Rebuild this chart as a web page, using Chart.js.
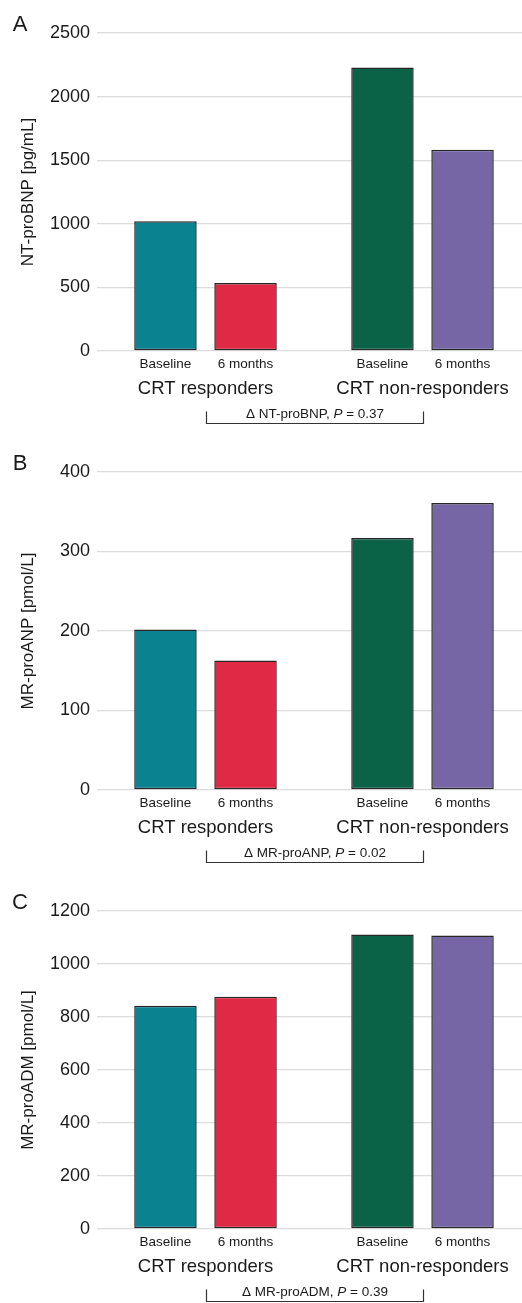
<!DOCTYPE html>
<html>
<head>
<meta charset="utf-8">
<title>CRT biomarkers</title>
<script src="https://cdn.jsdelivr.net/npm/chart.js"></script>
<style>
  html, body { margin: 0; padding: 0; background: #fff; overflow: hidden; width: 522px; height: 1303px; }
  .panel { position: absolute; left: 0; width: 531px; }
  canvas { display: block; }
</style>
</head>
<body>
<div class="panel" style="top:0px"><canvas id="chartA" width="531" height="439"></canvas></div>
<div class="panel" style="top:439px"><canvas id="chartB" width="531" height="439"></canvas></div>
<div class="panel" style="top:878px"><canvas id="chartC" width="531" height="425"></canvas></div>
<script>
// categories
const groups = ['CRT responders', 'CRT non-responders'];
const timepoints = ['Baseline', '6 months'];

// values (group order: responders, non-responders)
const ntprobnpBaseline = [1021, 2228];
const ntprobnp6m = [535, 1583];
const mrproanpBaseline = [202, 317];
const mrproanp6m = [163, 361];
const mrproadmBaseline = [842, 1111];
const mrproadm6m = [876, 1108];

// axis ranges / tick steps per panel
const panelLetters = ['A', 'B', 'C'];
const yTitles = ['NT-proBNP [pg/mL]', 'MR-proANP [pmol/L]', 'MR-proADM [pmol/L]'];
const yMax = [2500, 400, 1200];
const yStep = [500, 100, 200];
const deltaNames = ['NT-proBNP', 'MR-proANP', 'MR-proADM'];
const pValues = ['0.37', '0.02', '0.39'];

const baselineColors = ['#0b8290', '#0b6347'];
const sixMonthColors = ['#e02a45', '#7666a6'];
const FONT = '"Liberation Sans", Arial, Helvetica, sans-serif';
const INK = '#1a1a1a';

// panel letter, y title, timepoint labels and the delta bracket
const annotations = {
  id: 'annotations',
  afterDraw(chart, args, opts) {
    const ctx = chart.ctx;
    const area = chart.chartArea;
    const x = chart.scales.x;
    ctx.save();
    ctx.fillStyle = INK;

    ctx.font = '22px ' + FONT;
    ctx.textAlign = 'center';
    ctx.textBaseline = 'middle';
    ctx.fillText(opts.letter, 20, 25);

    ctx.save();
    ctx.translate(28, (area.top + area.bottom) / 2);
    ctx.rotate(-Math.PI / 2);
    ctx.font = '17px ' + FONT;
    ctx.fillText(opts.yTitle, 0, 0);
    ctx.restore();

    ctx.font = '13.5px ' + FONT;
    chart.data.datasets.forEach((ds, i) => {
      chart.getDatasetMeta(i).data.forEach(bar => {
        ctx.fillText(timepoints[i], bar.x, area.bottom + 13);
      });
    });

    // bracket between group centres
    const x0 = Math.round(x.getPixelForValue(0)) + 0.5;
    const x1 = Math.round(x.getPixelForValue(1)) + 0.5;
    const yb = area.bottom + 72.5;
    ctx.strokeStyle = '#333';
    ctx.lineWidth = 1.2;
    ctx.beginPath();
    ctx.moveTo(x0, yb - 12);
    ctx.lineTo(x0, yb);
    ctx.lineTo(x1, yb);
    ctx.lineTo(x1, yb - 12);
    ctx.stroke();

    const parts = [
      { t: '\u0394 ' + opts.delta + ', ', f: '13.5px ' + FONT },
      { t: 'P', f: 'italic 13.5px ' + FONT },
      { t: ' = ' + opts.p, f: '13.5px ' + FONT }
    ];
    let total = 0;
    parts.forEach(p => { ctx.font = p.f; p.w = ctx.measureText(p.t).width; total += p.w; });
    let tx = (x0 + x1) / 2 - total / 2;
    ctx.textAlign = 'left';
    parts.forEach(p => { ctx.font = p.f; ctx.fillText(p.t, tx, area.bottom + 63); tx += p.w; });
    ctx.restore();
  }
};

function makeChart(id, k, baseVals, sixVals) {
  return new Chart(document.getElementById(id), {
    type: 'bar',
    data: {
      labels: groups,
      datasets: [
        { label: timepoints[0], data: baseVals, backgroundColor: baselineColors },
        { label: timepoints[1], data: sixVals, backgroundColor: sixMonthColors }
      ]
    },
    options: {
      responsive: false,
      animation: false,
      devicePixelRatio: 1,
      layout: { padding: { top: 33, left: 0, right: 0, bottom: 0 } },
      datasets: {
        bar: {
          categoryPercentage: 0.738,
          barPercentage: 0.78,
          borderColor: '#262626',
          borderWidth: 1.5,
          borderSkipped: false
        }
      },
      plugins: {
        legend: { display: false },
        tooltip: { enabled: false },
        annotations: {
          letter: panelLetters[k], yTitle: yTitles[k],
          delta: deltaNames[k], p: pValues[k]
        }
      },
      scales: {
        x: {
          grid: { display: false },
          border: { display: false },
          ticks: { color: INK, font: { family: FONT, size: 18.5 }, padding: 19, maxRotation: 0 },
          afterFit(s) { s.height = s.chart.height - 351; s.paddingLeft = 0; s.paddingRight = 0; }
        },
        y: {
          min: 0, max: yMax[k],
          grid: { color: '#dcdcdc', lineWidth: 1.3, drawTicks: false },
          border: { display: false },
          ticks: {
            stepSize: yStep[k], color: INK, font: { family: FONT, size: 18 }, padding: 7,
            callback: v => String(v)
          },
          afterFit(s) { s.width = 97; s.paddingTop = 0; s.paddingBottom = 0; }
        }
      }
    },
    plugins: [annotations]
  });
}

makeChart('chartA', 0, ntprobnpBaseline, ntprobnp6m);
makeChart('chartB', 1, mrproanpBaseline, mrproanp6m);
makeChart('chartC', 2, mrproadmBaseline, mrproadm6m);
</script>
</body>
</html>
